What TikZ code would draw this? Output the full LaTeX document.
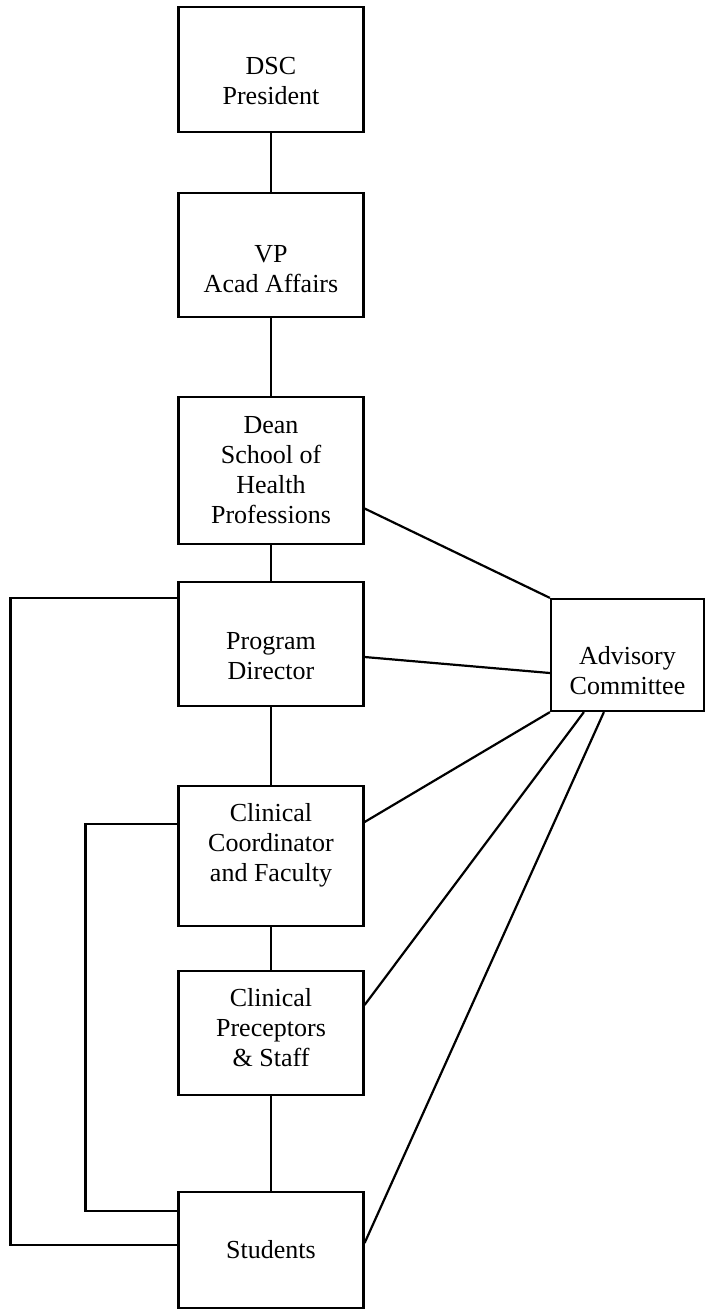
\documentclass[tikz,border=0pt]{standalone}
\usepackage{fontspec}
\setmainfont{Liberation Serif}
\usepackage{tikz}

\begin{document}
\begin{tikzpicture}[
    x=0.5pt, y=-0.5pt,
    box/.style={draw, line width=1.1pt, minimum width=92.5pt},
    lbl/.style={align=center, font=\fontsize{13}{15}\selectfont},
    link/.style={line width=1.1pt}
  ]
  \useasboundingbox (0,0) rectangle (705,1312);

  % Main chain
  \node[box, minimum height=62.5pt] (dsc) at (271,69.5) {};
  \node[box, minimum height=62pt] (vp) at (271,255) {};
  \node[box, minimum height=73.5pt] (dean) at (271,470.5) {};
  \node[box, minimum height=62pt] (pd) at (271,644) {};
  \node[box, minimum height=70pt] (cc) at (271,856) {};
  \node[box, minimum height=62pt] (cp) at (271,1033) {};
  \node[box, minimum height=58pt] (stud) at (271,1250) {};

  % Side box
  \node[box, minimum width=76.5pt, minimum height=56pt] (adv) at (627.5,655) {};

  % Texts
  \node[lbl] (dsc-t) at ([yshift=-6pt]dsc) {DSC\\President};
  \node[lbl] (vp-t) at ([yshift=-7pt]vp) {VP\\Acad Affairs};
  \node[lbl] (dean-t) at (dean) {Dean\\School of\\Health\\Professions};
  \node[lbl] (pd-t) at ([yshift=-6pt]pd) {Program\\Director};
  \node[lbl] (cc-t) at ([yshift=5.5pt]cc) {Clinical\\Coordinator\\and Faculty};
  \node[lbl] (cp-t) at ([yshift=2.5pt]cp) {Clinical\\Preceptors\\\& Staff};
  \node[lbl] (stud-t) at (stud) {Students};
  \node[lbl] (adv-t) at ([yshift=-8pt]adv) {Advisory\\Committee};

  \draw[link] (dsc) -- (vp);
  \draw[link] (vp) -- (dean);
  \draw[link] (dean) -- (pd);
  \draw[link] (pd) -- (cc);
  \draw[link] (cc) -- (cp);
  \draw[link] (cp) -- (stud);

  % Lines to the committee
  \draw[link] ([yshift=-19pt]dean.east) -- (adv.north west);
  \draw[link] ([yshift=-6.5pt]pd.east) -- ([yshift=-9pt]adv.west);
  \draw[link] (adv.south west) -- ([yshift=17pt]cc.east);
  \draw[link] ([xshift=17pt]adv.south west) -- ([yshift=14pt]cp.east);
  \draw[link] ([xshift=27pt]adv.south west) -- ([yshift=3.5pt]stud.east);

  % Loops down to the students
  \draw[link] ([yshift=23pt]pd.west) -- ++(-167,0) |- ([yshift=2.5pt]stud.west);
  \draw[link] ([yshift=16pt]cc.west) -- ++(-92,0) |- ([yshift=19.5pt]stud.west);
\end{tikzpicture}
\end{document}
